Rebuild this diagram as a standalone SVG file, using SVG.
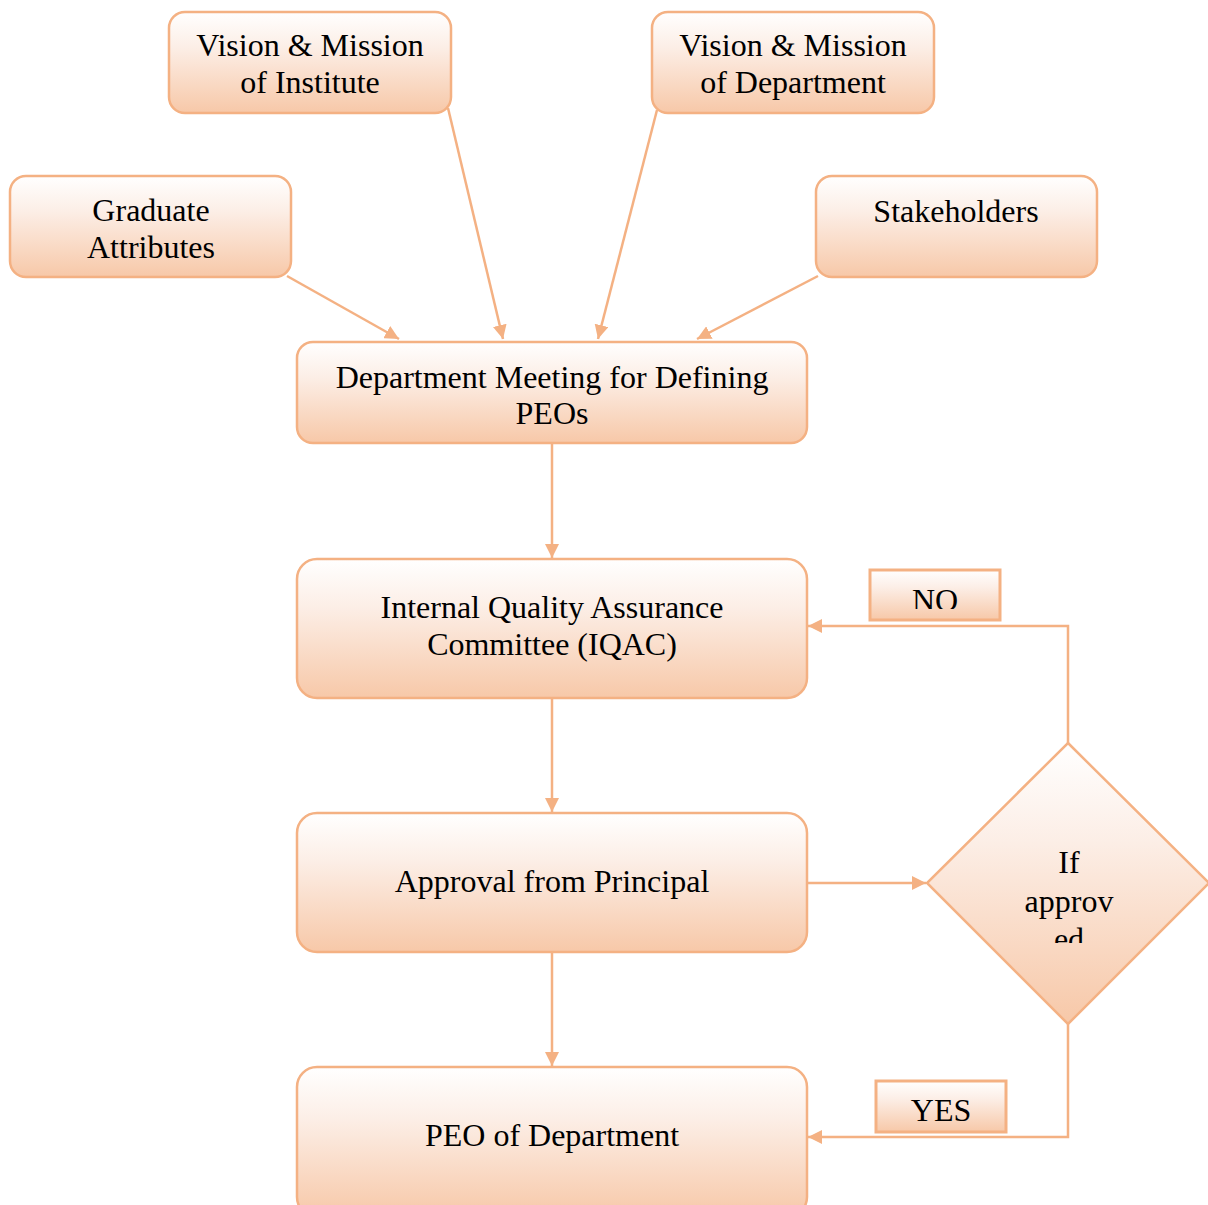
<svg xmlns="http://www.w3.org/2000/svg" width="1208" height="1205" viewBox="0 0 1208 1205">
<defs>
<linearGradient id="g" x1="0" y1="0" x2="0" y2="1">
<stop offset="0" stop-color="#FFFFFF"/>
<stop offset="0.35" stop-color="#FCEEE6"/>
<stop offset="1" stop-color="#F7C8A8"/>
</linearGradient>
<marker id="ah" viewBox="0 0 14 14" refX="14" refY="7" markerWidth="14" markerHeight="14" markerUnits="userSpaceOnUse" orient="auto">
<path d="M0,0 L14,7 L0,14 Z" fill="#F4B183"/>
</marker>
<clipPath id="clipD"><rect x="900" y="740" width="308" height="203"/></clipPath>
<clipPath id="clipNo"><rect x="860" y="560" width="150" height="49"/></clipPath>
</defs>
<style>
.box{fill:url(#g);stroke:#F4B183;stroke-width:2.5}
.lab{fill:url(#g);stroke:#F4B183;stroke-width:3}
.t{font-family:"Liberation Serif","Times New Roman",serif;font-size:32px;fill:#000;text-anchor:middle}
.c{fill:none;stroke:#F4B183;stroke-width:2.5}
</style>
<g id="connectors">
<line class="c" x1="287" y1="276" x2="399" y2="339" marker-end="url(#ah)"/>
<line class="c" x1="448" y1="108" x2="503" y2="339" marker-end="url(#ah)"/>
<line class="c" x1="657" y1="110" x2="598" y2="339" marker-end="url(#ah)"/>
<line class="c" x1="818" y1="276" x2="697" y2="339" marker-end="url(#ah)"/>
<line class="c" x1="552" y1="444" x2="552" y2="558" marker-end="url(#ah)"/>
<line class="c" x1="552" y1="698" x2="552" y2="812" marker-end="url(#ah)"/>
<line class="c" x1="552" y1="952" x2="552" y2="1066" marker-end="url(#ah)"/>
<line class="c" x1="807" y1="883" x2="926" y2="883" marker-end="url(#ah)"/>
<polyline class="c" points="1068,743 1068,626 808,626" marker-end="url(#ah)"/>
<polyline class="c" points="1068,1024 1068,1137 808,1137" marker-end="url(#ah)"/>
</g>
<g id="n-vmi">
<rect class="box" x="169" y="12" width="282" height="101" rx="16"/>
<text class="t" x="310" y="56">Vision &amp; Mission</text>
<text class="t" x="310" y="93">of Institute</text>
</g>
<g id="n-vmd">
<rect class="box" x="652" y="12" width="282" height="101" rx="16"/>
<text class="t" x="793" y="56">Vision &amp; Mission</text>
<text class="t" x="793" y="93">of Department</text>
</g>
<g id="n-ga">
<rect class="box" x="10" y="176" width="281" height="101" rx="16"/>
<text class="t" x="151" y="221">Graduate</text>
<text class="t" x="151" y="258">Attributes</text>
</g>
<g id="n-sh">
<rect class="box" x="816" y="176" width="281" height="101" rx="16"/>
<text class="t" x="956" y="222">Stakeholders</text>
</g>
<g id="n-dm">
<rect class="box" x="297" y="342" width="510" height="101" rx="16"/>
<text class="t" x="552" y="388">Department Meeting for Defining</text>
<text class="t" x="552" y="424">PEOs</text>
</g>
<g id="n-iqac">
<rect class="box" x="297" y="559" width="510" height="139" rx="20"/>
<text class="t" x="552" y="618">Internal Quality Assurance</text>
<text class="t" x="552" y="655">Committee (IQAC)</text>
</g>
<g id="n-ap">
<rect class="box" x="297" y="813" width="510" height="139" rx="20"/>
<text class="t" x="552" y="892">Approval from Principal</text>
</g>
<g id="n-peo">
<rect class="box" x="297" y="1067" width="510" height="150" rx="20"/>
<text class="t" x="552" y="1146">PEO of Department</text>
</g>
<g id="n-dec">
<polygon class="box" points="1068,743 1209,883 1068,1024 927,883"/>
<g clip-path="url(#clipD)">
<text class="t" x="1069" y="873">If</text>
<text class="t" x="1069" y="912">approv</text>
<text class="t" x="1069" y="950">ed</text>
</g>
</g>
<g id="l-no">
<rect class="lab" x="870" y="570" width="130" height="50"/>
<text class="t" x="935" y="611" clip-path="url(#clipNo)">NO</text>
</g>
<g id="l-yes">
<rect class="lab" x="876" y="1081" width="130" height="51"/>
<text class="t" x="941" y="1121">YES</text>
</g>
</svg>
